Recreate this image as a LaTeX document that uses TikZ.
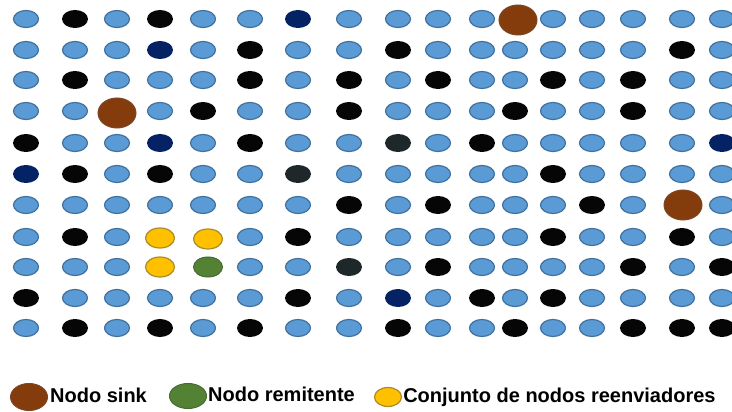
\documentclass[tikz,border=0pt]{standalone}
\usepackage{fontspec}
\setmainfont{Liberation Sans}
\usetikzlibrary{shapes.geometric,positioning}

\definecolor{nodeblue}{HTML}{5B9BD5}
\definecolor{nodeline}{HTML}{41719C}
\definecolor{nodeblack}{HTML}{060606}
\definecolor{nodenavy}{RGB}{5,35,100}
\definecolor{nodegray}{RGB}{30,40,42}
\definecolor{sinkbrown}{HTML}{843C0C}
\definecolor{sinkline}{RGB}{125,72,40}
\definecolor{relayyellow}{HTML}{FFC000}
\definecolor{relayline}{RGB}{170,140,40}
\definecolor{sendergreen}{HTML}{548235}
\definecolor{senderline}{RGB}{70,105,50}

\tikzset{
  dot/.style={ellipse, minimum width=25pt, minimum height=17pt, inner sep=0pt},
  cL/.style={dot, fill=nodeblue, draw=nodeline, line width=1.2pt},
  cK/.style={dot, fill=nodeblack, minimum width=26pt, minimum height=18pt},
  cN/.style={dot, fill=nodenavy, minimum width=26pt, minimum height=18pt},
  cD/.style={dot, fill=nodegray, minimum width=26pt, minimum height=18pt},
  sink/.style={ellipse, minimum width=38pt, minimum height=30pt, inner sep=0pt,
    fill=sinkbrown, draw=sinkline, line width=1pt},
  relay/.style={ellipse, minimum width=29pt, minimum height=20pt, inner sep=0pt,
    fill=relayyellow, draw=relayline, line width=1.2pt},
  sender/.style={ellipse, minimum width=29pt, minimum height=20pt, inner sep=0pt,
    fill=sendergreen, draw=senderline, line width=1pt},
  legtext/.style={inner sep=0pt, anchor=west, text height=15pt, text depth=4pt,
    font=\fontsize{20}{24}\selectfont\bfseries}
}

\begin{document}
\begin{tikzpicture}[x=1pt, y=-1pt]
    \useasboundingbox (0,0) rectangle (732,412);

    % Grid of nodes (X = special node placed below)
    \foreach \rowy/\cells [count=\r from 0] in {
        19/{L,K,L,K,L,L,N,L,L,L,L,X,L,L,L,L,L},
        50/{L,L,L,N,L,K,L,L,K,L,L,L,L,L,L,K,L},
        80/{L,K,L,L,L,K,L,K,L,K,L,L,K,L,K,L,L},
        111/{L,L,X,L,K,L,L,K,L,L,L,K,L,L,K,L,L},
        143/{K,L,L,N,L,K,L,L,D,L,K,L,L,L,L,L,N},
        174/{N,K,L,K,L,L,D,L,L,L,L,L,K,L,L,L,L},
        205/{L,L,L,L,L,L,L,K,L,K,L,L,L,K,L,X,L},
        237/{L,K,L,X,X,L,K,L,L,L,L,L,K,L,L,K,L},
        267/{L,L,L,X,X,L,L,D,L,K,L,L,L,L,K,L,K},
        298/{K,L,L,L,L,L,K,L,N,L,K,L,K,L,L,L,L},
        328/{L,K,L,K,L,K,L,L,K,L,L,K,L,L,K,K,K}} {
        \foreach \t [count=\j from 0] in \cells {
            \pgfmathsetmacro\colx{{26,75,117,160,203,250,298,349,398,438,482,515,553,592,633,682,722}[\j]}
            \if X\t\else
                \node[c\t] (n-\r-\j) at (\colx,\rowy) {};
            \fi
        }
    }

    % Sink nodes
    \node[sink] (sink-a) at (518,20) {};
    \node[sink] (sink-b) at (117,113) {};
    \node[sink] (sink-c) at (683,205) {};

    % Relay set and sender
    \node[relay] (relay-a) at (160,238) {};
    \node[relay] (relay-b) at (208,239) {};
    \node[relay] (relay-c) at (160,267) {};
    \node[sender] (sender) at (208,267) {};

    % Legend
    \node[sink, minimum width=37pt, minimum height=27pt] (leg-sink) at (29,397) {};
    \node[legtext, right=2pt of leg-sink] (txt-sink) {Nodo sink};
    \node[sender, minimum width=37pt, minimum height=25pt] (leg-sender) at (188,396) {};
    \node[legtext, right=1pt of leg-sender] (txt-sender) {Nodo remitente};
    \node[relay, minimum width=27pt, minimum height=19pt] (leg-relay) at (388,397) {};
    \node[legtext, right=1pt of leg-relay] (txt-relay) {Conjunto de nodos reenviadores};
\end{tikzpicture}
\end{document}
